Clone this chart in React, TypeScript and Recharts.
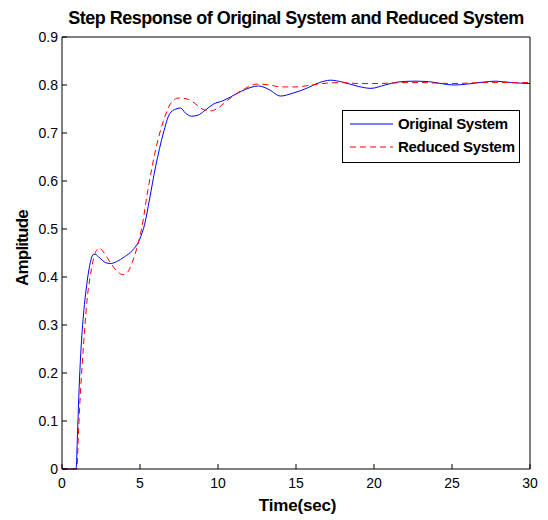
import React from 'react';
import { Line, LineChart, XAxis, YAxis } from 'recharts';

const xTicks = [0, 5, 10, 15, 20, 25, 30];
const yTicks = [0, 0.1, 0.2, 0.3, 0.4, 0.5, 0.6, 0.7, 0.8, 0.9];
const yTickLabels = ['0', '0.1', '0.2', '0.3', '0.4', '0.5', '0.6', '0.7', '0.8', '0.9'];

const origTime = [0, 0.9, 1.0, 1.1, 1.2, 1.3, 1.4, 1.55, 1.7, 1.85, 2.0, 2.15, 2.4, 2.8, 3.1, 3.5, 4.0, 4.5, 5.0, 5.3, 5.6, 6.0, 6.5, 6.9, 7.3, 7.6, 7.9, 8.3, 8.7, 9.2, 9.7, 10.3, 10.8, 11.5, 12.6, 13.3, 14.0, 14.8, 15.6, 16.5, 17.2, 18.0, 19.0, 19.8, 20.7, 21.5, 22.5, 23.5, 24.3, 25.1, 26.0, 27.0, 27.8, 28.8, 30];
const origAmp = [0, 0, 0.08, 0.17, 0.24, 0.29, 0.33, 0.375, 0.41, 0.435, 0.447, 0.447, 0.44, 0.43, 0.428, 0.432, 0.442, 0.455, 0.48, 0.51, 0.56, 0.63, 0.7, 0.74, 0.75, 0.752, 0.742, 0.735, 0.737, 0.748, 0.76, 0.767, 0.775, 0.787, 0.798, 0.79, 0.777, 0.783, 0.792, 0.805, 0.81, 0.806, 0.797, 0.793, 0.8, 0.806, 0.808, 0.807, 0.803, 0.8, 0.802, 0.806, 0.808, 0.805, 0.803];

const redTime = [0, 0.95, 1.05, 1.15, 1.3, 1.45, 1.6, 1.8, 2.0, 2.2, 2.4, 2.7, 3.1, 3.5, 3.9, 4.2, 4.5, 4.8, 5.1, 5.5, 6.0, 6.5, 7.0, 7.5, 8.0, 8.5, 9.0, 9.5, 10.0, 10.5, 11.0, 11.7, 12.5, 13.3, 14.0, 15.0, 16.0, 17.0, 18.0, 19.0, 20.0, 21.0, 22.0, 23.0, 24.0, 25.0, 26.0, 27.0, 28.0, 29.0, 30.0];
const redAmp = [0, 0, 0.07, 0.14, 0.22, 0.29, 0.35, 0.4, 0.435, 0.455, 0.46, 0.45, 0.43, 0.413, 0.405, 0.41, 0.43, 0.46, 0.5, 0.58, 0.665, 0.725, 0.763, 0.773, 0.771, 0.762, 0.75, 0.746, 0.752, 0.765, 0.778, 0.792, 0.802, 0.8, 0.796, 0.796, 0.8, 0.804, 0.805, 0.803, 0.803, 0.804, 0.805, 0.805, 0.804, 0.803, 0.804, 0.805, 0.805, 0.805, 0.805];

const origData = origTime.map((t, i) => ({ t, v: origAmp[i] }));
const redData = redTime.map((t, i) => ({ t, v: redAmp[i] }));

const FONT = '"Liberation Sans", Arial, sans-serif';
const TL = 5;

const BottomTick = ({ x, y, payload }: any) => (
  <g>
    <line x1={x} y1={y} x2={x} y2={y - TL} stroke="#000"/>
    <text x={x} y={y + 19} textAnchor="middle" fontSize={14} fontFamily={FONT} fill="#000">{payload.value}</text>
  </g>
);
const TopTick = ({ x, y }: any) => <line x1={x} y1={y} x2={x} y2={y + TL} stroke="#000"/>;
const LeftTick = ({ x, y, payload }: any) => (
  <g>
    <line x1={x} y1={y} x2={x + TL} y2={y} stroke="#000"/>
    <text x={x - 4} y={y + 5} textAnchor="end" fontSize={14} fontFamily={FONT} fill="#000">
      {yTickLabels[yTicks.indexOf(payload.value)] ?? payload.value}
    </text>
  </g>
);
const RightTick = ({ x, y }: any) => <line x1={x} y1={y} x2={x - TL} y2={y} stroke="#000"/>;

export default function App() {
  return (
    <div style={{ position: 'absolute', left: 0, top: 0, width: 548, height: 520, background: '#fff', fontFamily: FONT }}>
      <div style={{ position: 'absolute', left: 0, width: 592, top: 8, textAlign: 'center', fontSize: 18, fontWeight: 'bold', letterSpacing: -0.5, whiteSpace: 'nowrap' }}>
        Step Response of Original System and Reduced System
      </div>
      <div style={{ position: 'absolute', left: 0, width: 595, top: 496, textAlign: 'center', fontSize: 17, fontWeight: 'bold', letterSpacing: -0.2 }}>
        Time(sec)
      </div>
      <div style={{ position: 'absolute', left: 23, top: 248, transform: 'translate(-50%, -50%) rotate(-90deg)', fontSize: 17, fontWeight: 'bold', letterSpacing: -0.8, whiteSpace: 'nowrap' }}>
        Amplitude
      </div>
      <LineChart width={548} height={520} margin={{ top: 0, right: 0, bottom: 0, left: 0 }}>
        <XAxis xAxisId="b" dataKey="t" type="number" domain={[0, 30]} ticks={xTicks} height={51}
          tickSize={0} tickMargin={0} tick={<BottomTick/>} axisLine={{ stroke: '#000' }} allowDuplicatedCategory={false}/>
        <XAxis xAxisId="t" orientation="top" dataKey="t" type="number" domain={[0, 30]} ticks={xTicks} height={37}
          tickSize={0} tickMargin={0} tick={<TopTick/>} axisLine={{ stroke: '#000' }} allowDuplicatedCategory={false}/>
        <YAxis yAxisId="l" type="number" domain={[0, 0.9]} ticks={yTicks} width={62}
          tickSize={0} tickMargin={0} tick={<LeftTick/>} axisLine={{ stroke: '#000' }}/>
        <YAxis yAxisId="r" orientation="right" type="number" domain={[0, 0.9]} ticks={yTicks} width={18}
          tickSize={0} tickMargin={0} tick={<RightTick/>} axisLine={{ stroke: '#000' }}/>
        <Line xAxisId="b" yAxisId="l" data={origData} dataKey="v" type="monotone" stroke="#0000ff" strokeWidth={1}
          dot={false} isAnimationActive={false}/>
        <Line xAxisId="b" yAxisId="l" data={redData} dataKey="v" type="monotone" stroke="#ff0000" strokeWidth={1}
          strokeDasharray="6 4" dot={false} isAnimationActive={false}/>
      </LineChart>
      <div style={{ position: 'absolute', left: 342, top: 110, width: 176, height: 51, border: '1px solid #000', background: '#fff', fontSize: 15, fontWeight: 'bold', letterSpacing: -0.3 }}>
        <svg style={{ position: 'absolute', left: 7, top: 8 }} width={44} height={10}>
          <line x1={0} y1={5} x2={43} y2={5} stroke="#0000ff"/>
        </svg>
        <span style={{ position: 'absolute', left: 55, top: 4, lineHeight: '17px', whiteSpace: 'nowrap' }}>Original System</span>
        <svg style={{ position: 'absolute', left: 7, top: 31 }} width={44} height={10}>
          <line x1={0} y1={5} x2={43} y2={5} stroke="#ff0000" strokeDasharray="6 4"/>
        </svg>
        <span style={{ position: 'absolute', left: 55, top: 27, lineHeight: '17px', whiteSpace: 'nowrap' }}>Reduced System</span>
      </div>
    </div>
  );
}
